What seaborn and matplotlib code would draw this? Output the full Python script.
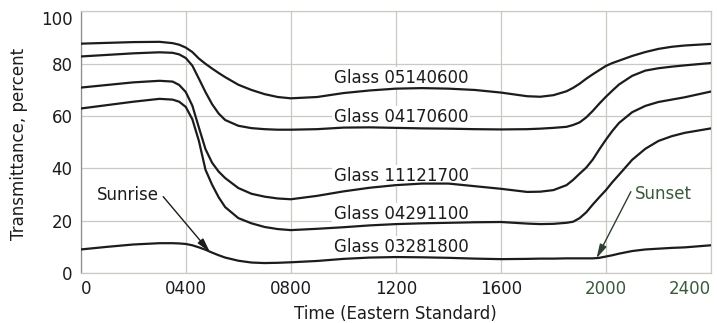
import numpy as np
import pandas as pd
import seaborn as sns
import matplotlib
matplotlib.use("Agg")
import matplotlib.pyplot as plt

# Hour of day (Eastern Standard) at which each transmittance was read
hours = [0, 100, 200, 300, 350, 375, 400, 425, 450, 475, 500, 525, 550,
         600, 650, 700, 750, 800, 900, 1000, 1100, 1200, 1300, 1400, 1500,
         1600, 1700, 1750, 1800, 1850, 1875, 1900, 1925, 1950, 1975, 2000,
         2025, 2050, 2100, 2150, 2200, 2250, 2300, 2400]

# Transmittance, percent, for each glass sample
glass_05140600 = [87.7, 88.0, 88.3, 88.4, 87.9, 87.3, 86.2, 84.5, 82.0, 80.0,
                  78.2, 76.5, 74.9, 72.0, 70.0, 68.4, 67.3, 66.8, 67.3, 68.8,
                  69.8, 70.5, 70.7, 70.5, 70.0, 69.0, 67.6, 67.4, 68.0, 69.5,
                  70.8, 72.4, 74.3, 76.0, 77.6, 79.2, 80.3, 81.2, 83.0, 84.5,
                  85.7, 86.5, 87.0, 87.6]
glass_04170600 = [82.8, 83.4, 84.0, 84.4, 84.2, 83.6, 82.2, 79.3, 74.3, 69.2,
                  64.6, 61.0, 58.5, 56.3, 55.4, 55.0, 54.8, 54.8, 55.0, 55.6,
                  55.7, 55.5, 55.3, 55.2, 55.0, 54.9, 55.0, 55.2, 55.5, 55.9,
                  56.6, 57.6, 59.5, 62.0, 64.8, 67.4, 69.8, 72.1, 75.4, 77.4,
                  78.3, 78.9, 79.4, 80.3]
glass_11121700 = [70.9, 71.9, 72.9, 73.5, 73.2, 71.9, 69.2, 64.0, 55.6, 47.4,
                  42.2, 38.8, 36.3, 32.5, 30.3, 29.2, 28.5, 28.2, 29.5, 31.2,
                  32.6, 33.6, 34.2, 34.2, 33.2, 32.2, 31.0, 31.1, 31.7, 33.6,
                  35.6, 38.0, 40.3, 43.4, 47.3, 51.0, 54.4, 57.4, 61.5, 63.9,
                  65.4, 66.3, 67.2, 69.4]
glass_04291100 = [62.9, 64.2, 65.5, 66.6, 66.3, 65.5, 63.5, 58.8, 50.5, 39.5,
                  33.8, 29.0, 25.2, 21.0, 19.0, 17.6, 16.8, 16.4, 16.9, 17.5,
                  18.2, 18.7, 19.0, 19.2, 19.4, 19.5, 18.9, 18.7, 18.8, 19.2,
                  19.6, 21.0, 23.2, 26.2, 29.0, 31.7, 34.8, 37.6, 43.3, 47.5,
                  50.5, 52.3, 53.6, 55.3]
glass_03281800 = [9.0, 10.0, 10.9, 11.4, 11.4, 11.3, 11.1, 10.6, 9.8, 8.9,
                  7.8, 6.8, 5.9, 4.7, 4.0, 3.8, 3.9, 4.1, 4.6, 5.4,
                  5.9, 6.1, 6.0, 5.8, 5.5, 5.3, 5.4, 5.5, 5.5, 5.6,
                  5.6, 5.6, 5.6, 5.6, 5.8, 6.3, 6.8, 7.4, 8.4, 9.0,
                  9.3, 9.6, 9.8, 10.6]

series_names = ["Glass 05140600", "Glass 04170600", "Glass 11121700",
                "Glass 04291100", "Glass 03281800"]
series_values = [glass_05140600, glass_04170600, glass_11121700,
                 glass_04291100, glass_03281800]

# Where each curve label sits (hour, percent)
label_hours = [964, 964, 964, 964, 964]
label_pcts = [74.4, 59.5, 37.2, 22.7, 9.9]

x_tick_values = [0, 400, 800, 1200, 1600, 2000, 2400]
x_tick_labels = ["0", "0400", "0800", "1200", "1600", "2000", "2400"]
y_tick_values = [0, 20, 40, 60, 80, 100]

# Sunrise / sunset callouts: text position, arrow start, arrow tip
sunrise_text = (178, 29.8)
sunrise_from = (314, 29.2)
sunrise_to = (492, 8.0)
sunset_text = (2219, 30.2)
sunset_from = (2095, 31.1)
sunset_to = (1964, 5.6)

frames = [pd.DataFrame({"hour": hours, "pct": vals, "glass": name})
          for name, vals in zip(series_names, series_values)]
df = pd.concat(frames, ignore_index=True)

sns.set_theme(style="white")
plt.rcParams["font.family"] = ["DejaVu Sans"]

ink = "#1c1c1c"
green = "#3a5a3c"
grid_col = "#c9cbc3"

fig = plt.figure(figsize=(7.17, 3.23), dpi=100)
ax = fig.add_axes([0.1126, 0.1548, 0.8790, 0.8096])

sns.lineplot(data=df, x="hour", y="pct", hue="glass", hue_order=series_names,
             palette=[ink] * 5, legend=False, linewidth=1.6, ax=ax,
             errorbar=None, zorder=3)
for line in ax.lines:
    line.set_solid_joinstyle("round")
    line.set_solid_capstyle("round")

ax.set_xlim(0, 2400)
ax.set_ylim(0, 100)
ax.set_xticks(x_tick_values)
ax.set_xticklabels(x_tick_labels)
ax.set_yticks(y_tick_values)
ax.set_yticklabels([str(v) for v in y_tick_values])

ax.set_axisbelow(True)
ax.grid(True, color=grid_col, linewidth=0.9, zorder=0)
for side in ["top", "right", "bottom"]:
    ax.spines[side].set_color(grid_col)
    ax.spines[side].set_linewidth(0.9)
ax.spines["left"].set_color("#8c8c8c")
ax.spines["left"].set_linewidth(0.9)

ax.tick_params(axis="both", length=0, labelsize=12, labelcolor=ink)
ax.tick_params(axis="y", pad=5.8)
ax.tick_params(axis="x", pad=5.0)

xt = ax.get_xticklabels()
xt[0].set_horizontalalignment("left")
xt[-1].set_horizontalalignment("right")
xt[-2].set_color(green)
xt[-1].set_color(green)
yt = ax.get_yticklabels()
yt[-1].set_verticalalignment("top")

ax.set_xlabel("Time (Eastern Standard)", fontsize=12, color=ink)
ax.set_ylabel("Transmittance, percent", fontsize=12, color=ink)
ax.xaxis.set_label_coords(0.5, -0.122)
ax.yaxis.set_label_coords(-0.0844, 0.493)

for name, hx, py in zip(series_names, label_hours, label_pcts):
    ax.text(hx, py, name, ha="left", va="center", fontsize=12, color=ink,
            zorder=2,
            bbox=dict(facecolor="white", edgecolor="none", pad=1.5))

ax.text(*sunrise_text, "Sunrise", ha="center", va="center", fontsize=12,
        color=ink, zorder=2)
ax.annotate("", xy=sunrise_to, xytext=sunrise_from,
            arrowprops=dict(arrowstyle="-|>,head_length=0.7,head_width=0.18",
                            color=ink, lw=1.0, shrinkA=0, shrinkB=0),
            zorder=4)
ax.text(*sunset_text, "Sunset", ha="center", va="center", fontsize=12,
        color=green, zorder=2)
ax.annotate("", xy=sunset_to, xytext=sunset_from,
            arrowprops=dict(arrowstyle="-|>,head_length=0.7,head_width=0.18",
                            color="#2f3f30", lw=1.0, shrinkA=0, shrinkB=0),
            zorder=4)

fig.savefig("out.png", dpi=100)
